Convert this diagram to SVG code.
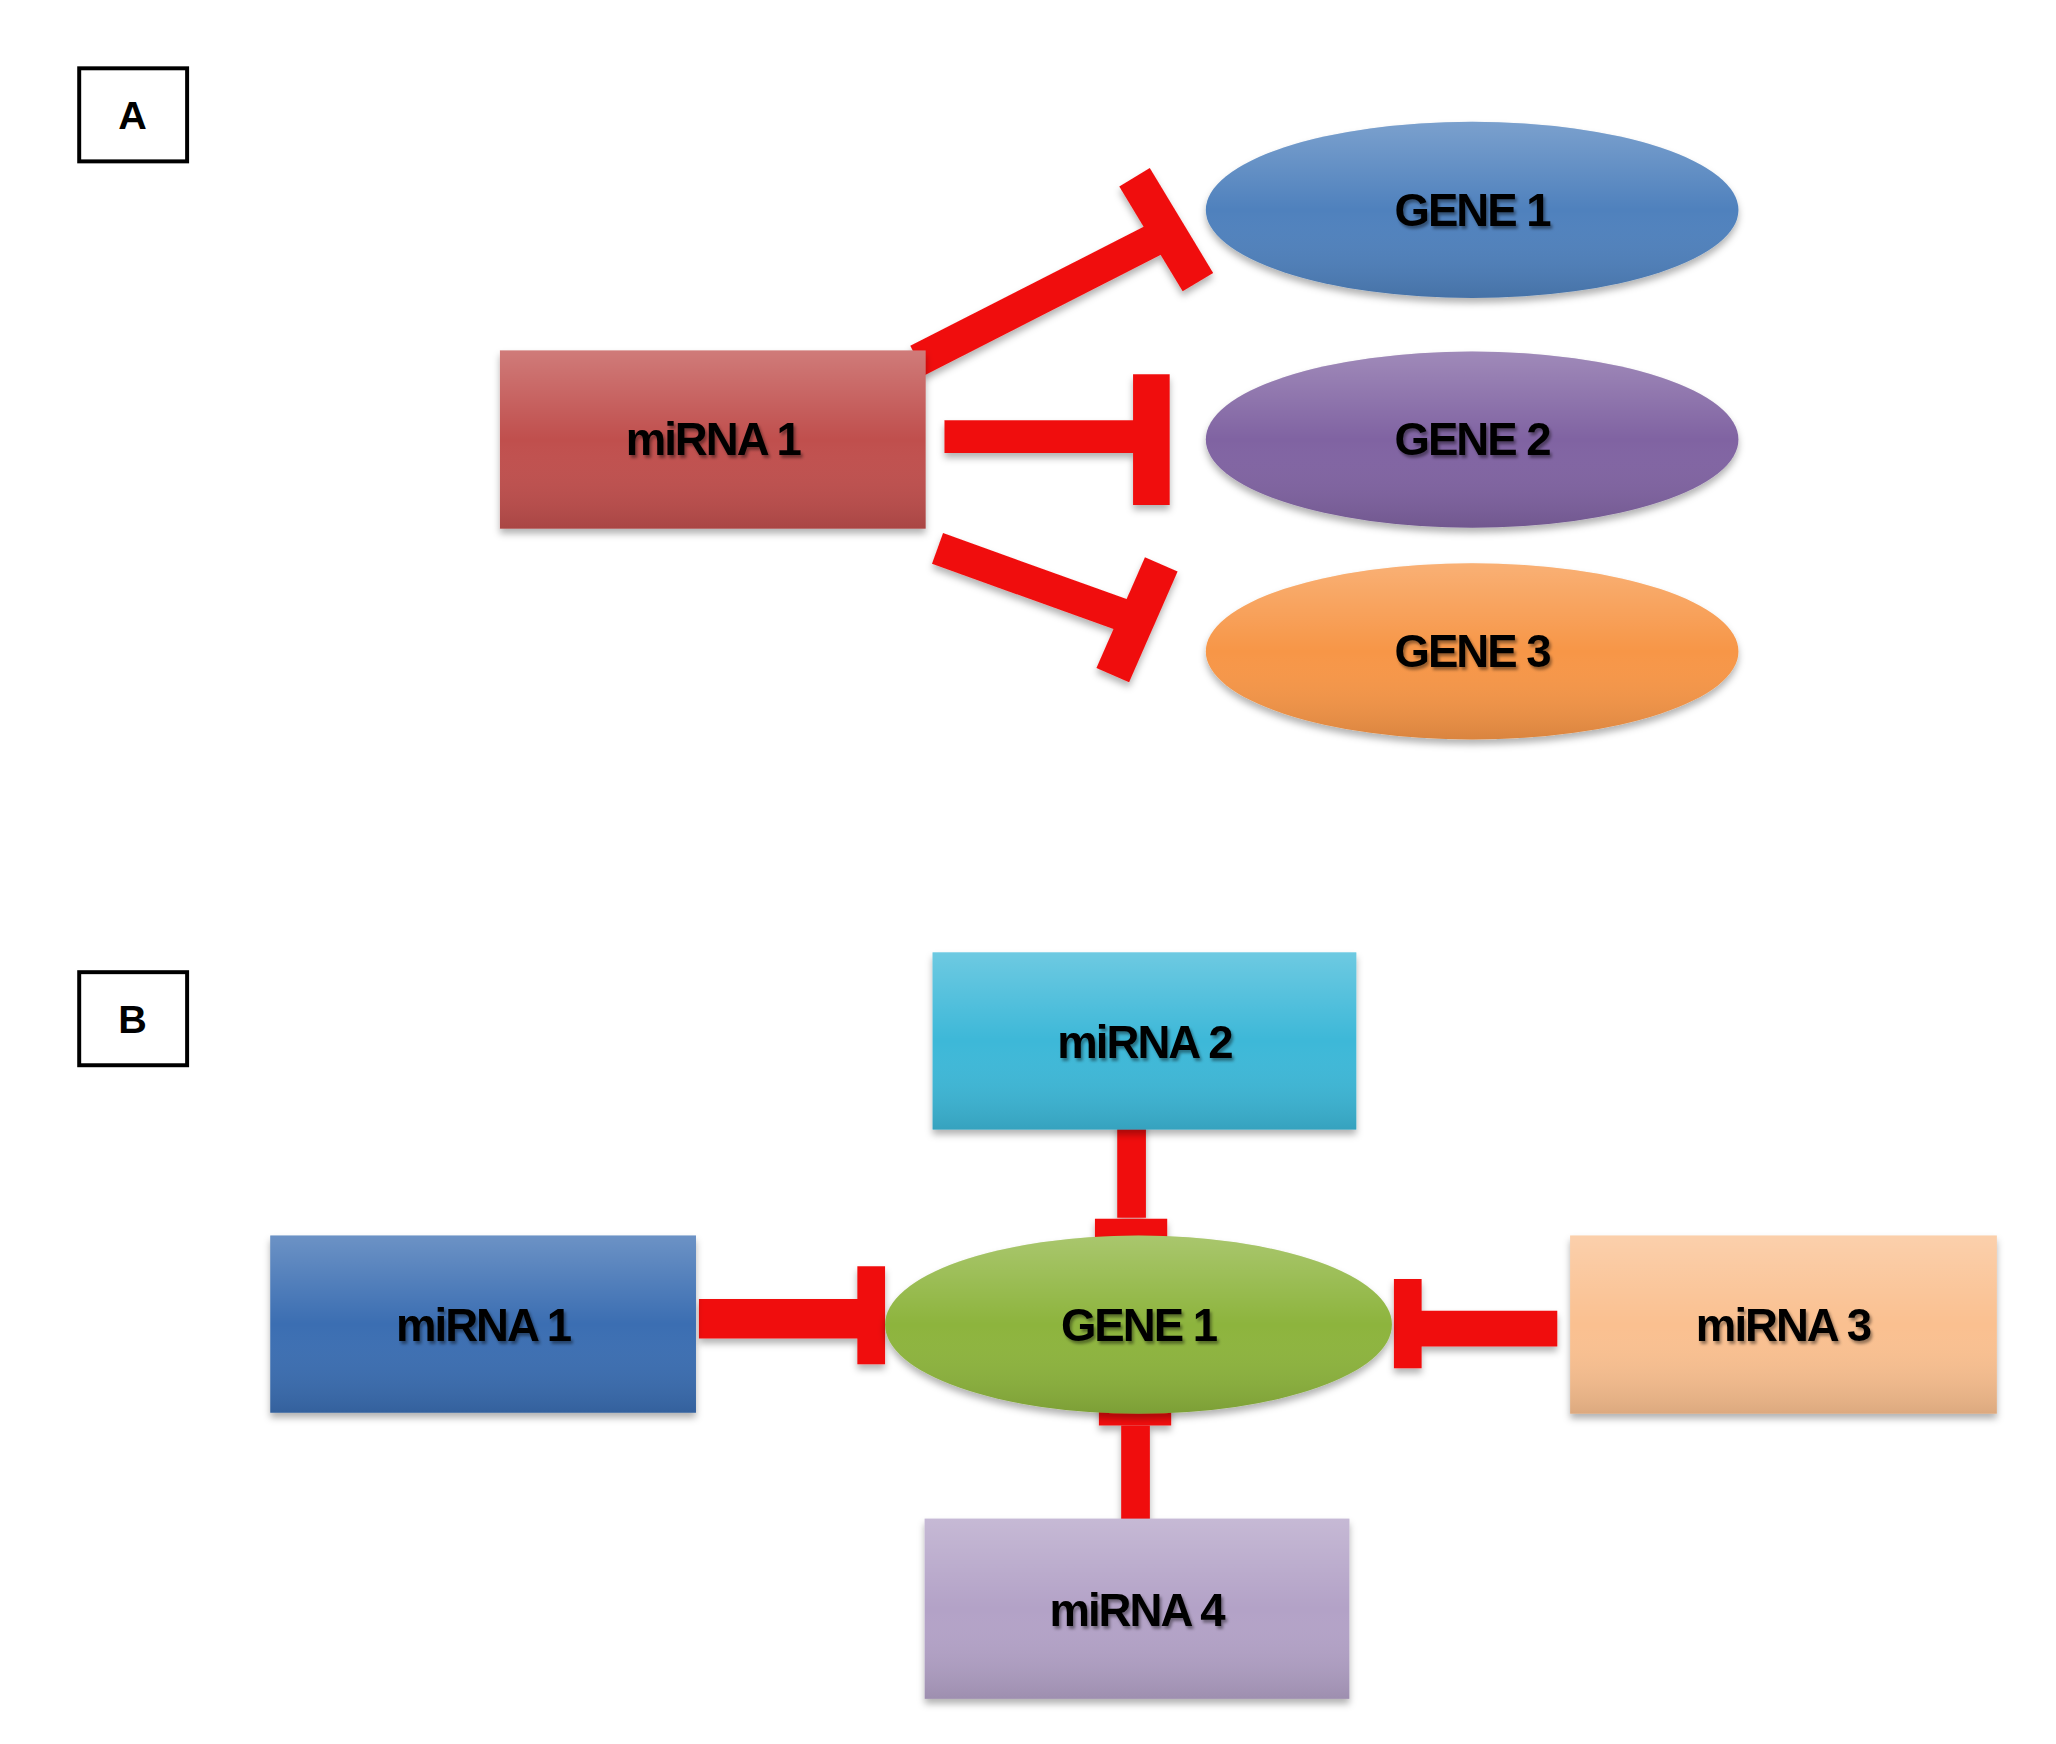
<svg xmlns="http://www.w3.org/2000/svg" width="2056" height="1744" viewBox="0 0 2056 1744">
<defs>
<filter id="sh" x="-10%" y="-10%" width="130%" height="140%"><feDropShadow dx="0" dy="5" stdDeviation="4" flood-color="#000" flood-opacity="0.3"/></filter>
<filter id="ts" x="-10%" y="-20%" width="130%" height="150%"><feDropShadow dx="2" dy="3" stdDeviation="1.5" flood-color="#000" flood-opacity="0.4"/></filter>
<linearGradient id="gl" x1="0" y1="0" x2="0" y2="1"><stop offset="0" stop-color="#fff" stop-opacity="0.25"/><stop offset="0.5" stop-color="#fff" stop-opacity="0"/><stop offset="1" stop-color="#000" stop-opacity="0.12"/></linearGradient>
</defs>
<style>
.lbl{font-family:"Liberation Sans",Arial,sans-serif;font-weight:bold;font-size:46px;fill:#000;text-anchor:middle;letter-spacing:-2px}
.box{fill:#fff;stroke:#000;stroke-width:4}
.let{font-family:"Liberation Sans",Arial,sans-serif;font-weight:bold;font-size:40px;text-anchor:middle}
.inh{stroke:#f01010;stroke-linecap:butt;fill:none}
</style>
<g transform="scale(0.99)">
<g id="labelA"><rect class="box" x="80" y="69" width="109" height="94"/><text class="let" x="134" y="130">A</text></g>
<g id="labelB"><rect class="box" x="80" y="982" width="109" height="94"/><text class="let" x="134" y="1043">B</text></g>

<g id="connectors" filter="url(#sh)">
<line class="inh" x1="927" y1="364" x2="1178" y2="236" stroke-width="33"/>
<line class="inh" x1="1146" y1="179" x2="1210" y2="285" stroke-width="36"/>
<line class="inh" x1="954" y1="441" x2="1150" y2="441" stroke-width="33"/>
<line class="inh" x1="1163" y1="378" x2="1163" y2="510" stroke-width="37"/>
<line class="inh" x1="947" y1="554" x2="1150" y2="627" stroke-width="33"/>
<line class="inh" x1="1173" y1="570" x2="1124" y2="682" stroke-width="36"/>

<line class="inh" x1="1143" y1="1129" x2="1143" y2="1230" stroke-width="29"/>
<line class="inh" x1="1106" y1="1243" x2="1179" y2="1243" stroke-width="24"/>
<line class="inh" x1="706" y1="1332" x2="870" y2="1332" stroke-width="40"/>
<line class="inh" x1="880" y1="1279" x2="880" y2="1378" stroke-width="28"/>
<line class="inh" x1="1432" y1="1342" x2="1573" y2="1342" stroke-width="36"/>
<line class="inh" x1="1422" y1="1292" x2="1422" y2="1382" stroke-width="28"/>
<line class="inh" x1="1147" y1="1440" x2="1147" y2="1543" stroke-width="29"/>
<line class="inh" x1="1110" y1="1428" x2="1183" y2="1428" stroke-width="24"/>
</g>

<g id="miRNA1A"><rect x="505" y="354" width="430" height="180" fill="#C0504D" filter="url(#sh)"/><rect x="505" y="354" width="430" height="180" fill="url(#gl)"/><text class="lbl" x="720" y="460" filter="url(#ts)">miRNA 1</text></g>
<g id="gene1A"><ellipse cx="1487" cy="212" rx="269" ry="89" fill="#4F81BD" filter="url(#sh)"/><ellipse cx="1487" cy="212" rx="269" ry="89" fill="url(#gl)"/><text class="lbl" x="1487" y="228" filter="url(#ts)">GENE 1</text></g>
<g id="gene2A"><ellipse cx="1487" cy="444" rx="269" ry="89" fill="#8064A2" filter="url(#sh)"/><ellipse cx="1487" cy="444" rx="269" ry="89" fill="url(#gl)"/><text class="lbl" x="1487" y="460" filter="url(#ts)">GENE 2</text></g>
<g id="gene3A"><ellipse cx="1487" cy="658" rx="269" ry="89" fill="#F79646" filter="url(#sh)"/><ellipse cx="1487" cy="658" rx="269" ry="89" fill="url(#gl)"/><text class="lbl" x="1487" y="674" filter="url(#ts)">GENE 3</text></g>

<g id="miRNA2B"><rect x="942" y="962" width="428" height="179" fill="#3CB8D8" filter="url(#sh)"/><rect x="942" y="962" width="428" height="179" fill="url(#gl)"/><text class="lbl" x="1156" y="1069" filter="url(#ts)">miRNA 2</text></g>
<g id="miRNA1B"><rect x="273" y="1248" width="430" height="179" fill="#3A6EB2" filter="url(#sh)"/><rect x="273" y="1248" width="430" height="179" fill="url(#gl)"/><text class="lbl" x="488" y="1355" filter="url(#ts)">miRNA 1</text></g>
<g id="gene1B"><ellipse cx="1150" cy="1338" rx="256" ry="90" fill="#8DB43E" filter="url(#sh)"/><ellipse cx="1150" cy="1338" rx="256" ry="90" fill="url(#gl)"/><text class="lbl" x="1150" y="1355" filter="url(#ts)">GENE 1</text></g>
<g id="miRNA3B"><rect x="1586" y="1248" width="431" height="180" fill="#FAC090" filter="url(#sh)"/><rect x="1586" y="1248" width="431" height="180" fill="url(#gl)"/><text class="lbl" x="1801" y="1355" filter="url(#ts)">miRNA 3</text></g>
<g id="miRNA4B"><rect x="934" y="1534" width="429" height="182" fill="#B3A2C7" filter="url(#sh)"/><rect x="934" y="1534" width="429" height="182" fill="url(#gl)"/><text class="lbl" x="1148" y="1642" filter="url(#ts)">miRNA 4</text></g>
</g>
</svg>
